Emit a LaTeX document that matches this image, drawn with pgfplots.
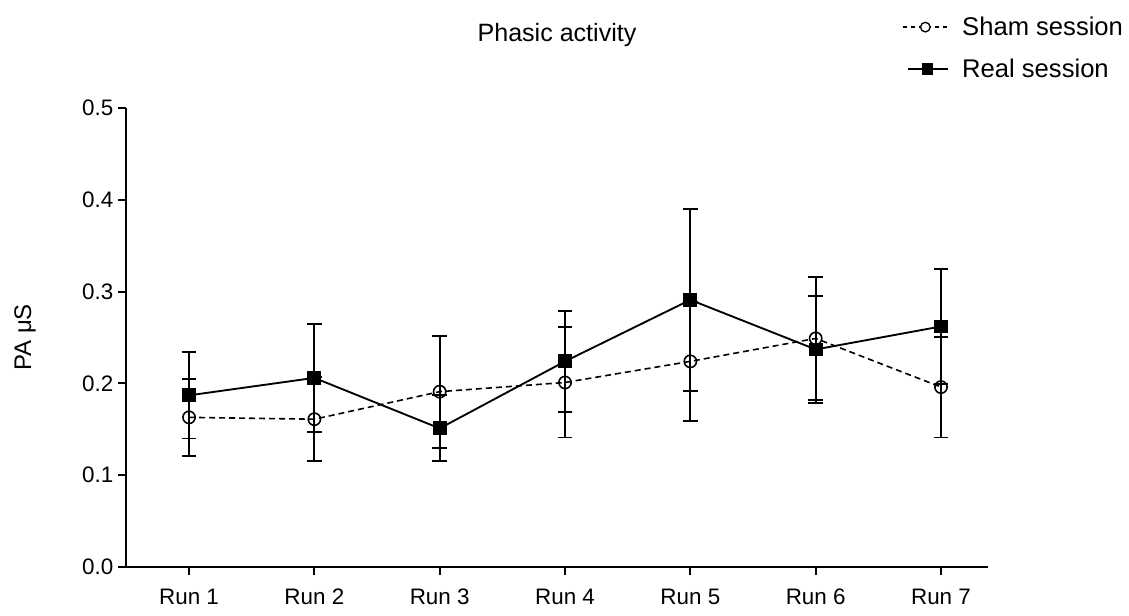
\documentclass[border=0pt]{standalone}
\usepackage{pgfplots}
\pgfplotsset{compat=1.18}
\usepackage{fontspec}
\setmainfont{Liberation Sans}

% mean and SEM per run
\pgfplotstableread{
x y e
1 0.163 0.042
2 0.161 0.046
3 0.191 0.061
4 0.201 0.060
5 0.224 0.065
6 0.249 0.067
7 0.196 0.055
}\shamdata
\pgfplotstableread{
x y e
1 0.187 0.047
2 0.206 0.059
3 0.151 0.036
4 0.224 0.055
5 0.291 0.099
6 0.237 0.058
7 0.262 0.063
}\realdata

\begin{document}
\begin{tikzpicture}
\useasboundingbox (-94.5pt,-36pt) rectangle (752.25pt,425.25pt);
\begin{axis}[
  at={(0,0)}, anchor=south west,
  scale only axis, width=646.5pt, height=344.25pt,
  xmin=0.497, xmax=7.375, ymin=0, ymax=0.5,
  axis lines=left,
  axis line style={-, line width=1.4pt},
  tick style={line width=1.4pt, black},
  tick align=outside, major tick length=6pt,
  xtick={1,2,3,4,5,6,7},
  xticklabels={Run 1,Run 2,Run 3,Run 4,Run 5,Run 6,Run 7},
  xticklabel style={yshift=-7pt},
  ytick={0,0.1,0.2,0.3,0.4,0.5},
  yticklabel style={/pgf/number format/.cd, fixed, fixed zerofill, precision=1, assume math mode=true},
  ticklabel style={font=\fontsize{16.8}{18}\selectfont},
  title={Phasic activity},
  title style={at={(axis description cs:0.5,1)}, anchor=center, yshift=48.5pt,
    font=\fontsize{18.8}{22}\selectfont},
  ylabel={PA μS},
  ylabel style={at={(axis description cs:-0.117,0.5)}, anchor=center,
    font=\fontsize{18}{22}\selectfont},
  legend style={draw=none, fill=none, at={(axis description cs:1.16,1.205)}, anchor=north east,
    font=\fontsize{19.2}{22}\selectfont, row sep=12pt, inner sep=0pt,
    /tikz/every odd column/.append style={column sep=8pt}},
  legend cell align=left,
  every axis plot/.append style={line width=1.4pt, black},
  error bars/error bar style={solid, line width=1.4pt},
  error bars/error mark options={rotate=90, mark size=5.5pt, line width=1.4pt},
]
\addplot[dash pattern=on 4.5pt off 3pt, line width=1.2pt,
  mark=o, mark size=4.6pt, mark options={solid, line width=1.2pt},
  legend image code/.code={
    \draw[dash pattern=on 3.5pt off 2.5pt, line width=1pt] (0pt,0pt) -- (34pt,0pt);
    \draw[solid, line width=1pt, fill=white] (17pt,0pt) circle (3.6pt);},
  error bars/.cd, y dir=both, y explicit]
  table[x=x, y=y, y error=e] {\shamdata};
\addlegendentry{Sham session}
\addplot[solid, mark=square*, mark size=4.5pt, mark options={solid},
  legend image code/.code={
    \draw[solid, line width=1.3pt] (4pt,0pt) -- (34pt,0pt);
    \fill (15pt,-3.7pt) rectangle (22.4pt,3.7pt);},
  error bars/.cd, y dir=both, y explicit]
  table[x=x, y=y, y error=e] {\realdata};
\addlegendentry{Real session}
\end{axis}
\end{tikzpicture}
\end{document}
